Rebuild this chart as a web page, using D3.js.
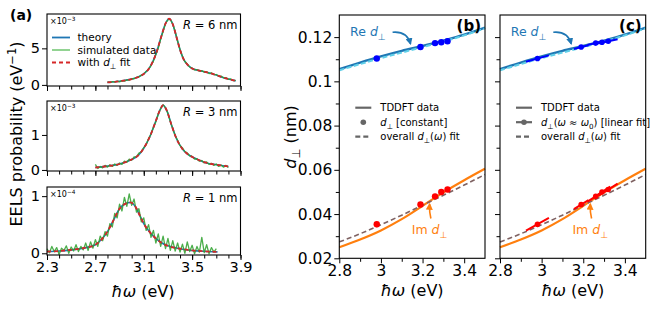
<!DOCTYPE html>
<html>
<head>
<meta charset="utf-8">
<script src="https://cdn.jsdelivr.net/npm/d3@7"></script>
<style>
  body { margin: 0; background: #fff; }
  text { font-family: "DejaVu Sans", sans-serif; }
</style>
</head>
<body>
<svg id="fig" width="664" height="309"></svg>
<script>
// ---------- panel (a): EELS spectra ----------
// theory curves, [energy (eV), probability]
const theoryR6 = [[2.80,0.35],[2.90,0.5],[3.00,0.8],[3.05,1.05],[3.10,1.5],[3.15,2.4],[3.20,4.2],[3.25,6.9],[3.28,8.4],[3.31,9.05],[3.34,8.3],[3.37,6.6],[3.40,4.8],[3.43,3.5],[3.46,2.8],[3.50,2.25],[3.55,2.0],[3.60,1.8],[3.65,1.6],[3.70,1.35],[3.75,1.05],[3.80,0.8],[3.86,0.55]];
const theoryR3 = [[2.70,0.07],[2.80,0.11],[2.90,0.17],[3.00,0.30],[3.05,0.40],[3.10,0.62],[3.15,0.95],[3.20,1.40],[3.235,1.72],[3.26,1.85],[3.29,1.70],[3.33,1.28],[3.37,0.90],[3.42,0.60],[3.46,0.46],[3.52,0.34],[3.57,0.26],[3.62,0.20],[3.70,0.15],[3.80,0.10]];
const theoryR1 = [[2.30,0.03],[2.40,0.04],[2.50,0.06],[2.60,0.09],[2.70,0.15],[2.75,0.24],[2.80,0.38],[2.85,0.58],[2.90,0.78],[2.95,0.87],[2.99,0.89],[3.03,0.82],[3.07,0.65],[3.10,0.52],[3.15,0.37],[3.20,0.26],[3.25,0.18],[3.30,0.13],[3.40,0.08],[3.50,0.05],[3.60,0.035],[3.71,0.025]];

// energy grid of the simulated (noisy) data
const simEnergy = [2.30,2.32,2.34,2.36,2.38,2.40,2.42,2.44,2.46,2.48,2.50,2.52,2.54,2.56,2.58,2.60,2.62,2.64,2.66,2.68,
  2.70,2.72,2.74,2.76,2.78,2.80,2.82,2.84,2.86,2.88,2.90,2.92,2.94,2.96,2.98,3.00,3.02,3.04,3.06,3.08,
  3.10,3.12,3.14,3.16,3.18,3.20,3.22,3.24,3.26,3.28,3.30,3.32,3.34,3.36,3.38,3.40,3.42,3.44,3.46,3.48,
  3.50,3.52,3.54,3.56,3.58,3.60,3.62,3.64,3.66,3.68,3.70,3.72,3.74,3.76,3.78,3.80,3.82,3.84,3.86];

const simR6 = [0.40,0.30,0.45,0.38,0.52,0.42,0.58,0.52,0.68,0.66,0.85,0.84,1.05,1.08,1.35,1.48,1.85,2.15,2.65,3.25,
  4.15,5.0,6.3,7.3,8.4,8.9,8.95,8.3,7.3,6.0,4.85,3.9,3.2,2.85,2.45,2.3,2.05,2.1,1.88,1.95,
  1.75,1.8,1.55,1.65,1.4,1.42,1.18,1.2,0.95,1.0,0.75,0.82,0.58,0.62];
const simR3 = [0.16,0.04,0.10,0.06,0.13,0.08,0.15,0.10,0.17,0.13,0.20,0.16,0.25,0.22,0.31,0.28,0.37,0.38,0.48,0.52,
  0.64,0.72,0.90,1.02,1.22,1.38,1.60,1.75,1.86,1.78,1.62,1.38,1.18,0.98,0.85,0.70,0.63,0.52,0.49,0.40,
  0.39,0.31,0.32,0.25,0.27,0.20,0.23,0.16,0.19,0.13,0.17,0.10,0.14,0.08,0.13,0.07];
const simR1 = [0.08,0.01,0.12,0.03,0.10,-0.02,0.09,0.05,0.13,0.00,0.11,0.04,0.15,0.03,0.12,0.06,0.18,0.05,0.20,0.09,
  0.24,0.12,0.30,0.22,0.38,0.30,0.52,0.46,0.70,0.62,0.86,0.74,0.98,0.82,1.04,0.84,0.95,0.72,0.78,0.55,
  0.62,0.40,0.50,0.28,0.40,0.18,0.34,0.12,0.30,0.08,0.26,0.05,0.22,0.04,0.18,0.02,0.16,0.00,0.20,0.03,
  0.14,-0.01,0.12,0.02,0.28,0.01,0.15,-0.01,0.10,0.02,0.08];

const radii = ["6", "3", "1"];
const exponents = ["−3", "−3", "−4"];
const eelsTicksX = [2.3, 2.7, 3.1, 3.5, 3.9];

// ---------- panels (b), (c): d_perp ----------
const reTddft = [[2.80,0.1055],[2.90,0.1085],[3.00,0.1113],[3.10,0.1138],[3.20,0.1160],[3.30,0.1184],[3.40,0.1211],[3.50,0.1243]];
const reFit   = [[2.80,0.1050],[2.90,0.1078],[3.00,0.1105],[3.10,0.1130],[3.20,0.1155],[3.30,0.1180],[3.40,0.1208],[3.50,0.1240]];
const imTddft = [[2.80,0.0250],[2.90,0.0285],[3.00,0.0326],[3.10,0.0377],[3.20,0.0437],[3.30,0.0498],[3.40,0.0553],[3.50,0.0605]];
const imFit   = [[2.80,0.0274],[2.90,0.0311],[3.00,0.0352],[3.10,0.0395],[3.20,0.0440],[3.30,0.0485],[3.40,0.0531],[3.50,0.0579]];

const pointE   = [2.98, 3.19, 3.26, 3.29, 3.32];
const reConst  = [0.1103, 0.1155, 0.1173, 0.1177, 0.1181];
const imConst  = [0.0354, 0.0443, 0.0480, 0.0500, 0.0511];
const reSlope  = [0.026, 0.024, 0.022, 0.022, 0.020];
const imSlope  = [0.052, 0.058, 0.060, 0.060, 0.060];
const fitHalf  = [0.055, 0.035, 0.04, 0.04, 0.045];

const svg = d3.select("#fig");
const fmt = d3.format("~g");

const defs = svg.append("defs");
function arrowMarker(id, color) {
    defs.append("marker")
        .attr("id", id)
        .attr("viewBox", "0 0 10 10")
        .attr("refX", 8).attr("refY", 5)
        .attr("markerUnits", "userSpaceOnUse")
        .attr("markerWidth", 7).attr("markerHeight", 7)
        .attr("orient", "auto")
        .append("path")
        .attr("d", "M0,0L10,5L0,10z")
        .attr("fill", color);
}
arrowMarker("ahBlue", "#1f77b4");
arrowMarker("ahOrange", "#ff7f0e");

// append text made of parts: [string, "i" | "sub" | "sup" | ""]
function rich(sel, parts, size) {
    let shift = 0;
    parts.forEach(function(p) {
        let t = sel.append("tspan").text(p[0]);
        let want = 0;
        if (p[1] == "sub") { want = size * 0.28; t.attr("font-size", size * 0.72); }
        if (p[1] == "sup") { want = -size * 0.4; t.attr("font-size", size * 0.72); }
        if (p[1] == "i") t.attr("font-style", "italic");
        if (want != shift) { t.attr("dy", want - shift); shift = want; }
    });
}

function styleAxis(g, size) {
    g.select(".domain").remove();
    g.selectAll("line").attr("stroke", "#000").attr("stroke-width", 1);
    g.selectAll("text").attr("font-size", size).attr("fill", "#000");
}

// ---------- draw panel (a) ----------
const aLeft = 47, aRight = 240.5;
const xA = d3.scaleLinear().domain([2.3, 3.9]).range([aLeft, aRight]);
const rowsA = [
    {theory: theoryR6, sim: simR6, from: 2.80, dom: [-0.15, 9.7], ticks: [0, 5], top: 14, bottom: 86},
    {theory: theoryR3, sim: simR3, from: 2.70, dom: [-0.03, 1.97], ticks: [0, 1], top: 101, bottom: 171},
    {theory: theoryR1, sim: simR1, from: 2.30, dom: [-0.03, 1.16], ticks: [0, 1], top: 187, bottom: 255}
];

rowsA.forEach(function(row, i) {
    let y = d3.scaleLinear().domain(row.dom).range([row.bottom, row.top]);
    let g = svg.append("g");
    let start = simEnergy.indexOf(row.from);

    let smooth = d3.line().x(d => xA(d[0])).y(d => y(d[1])).curve(d3.curveMonotoneX);
    let noisy = d3.line().x((d, k) => xA(simEnergy[start + k])).y(d => y(d));

    g.append("path").attr("d", smooth(row.theory))
        .attr("fill", "none").attr("stroke", "#1f77b4").attr("stroke-width", 1.6);
    g.append("path").attr("d", noisy(row.sim))
        .attr("fill", "none").attr("stroke", "#2ca02c").attr("stroke-width", 1.3)
        .attr("stroke-opacity", 0.85).attr("stroke-linejoin", "round");
    g.append("path").attr("d", smooth(row.theory))
        .attr("fill", "none").attr("stroke", "#d62728").attr("stroke-width", 1.8)
        .attr("stroke-dasharray", "4,3");

    // x ticks
    let minor = g.append("g").attr("transform", "translate(0," + row.bottom + ")")
        .call(d3.axisBottom(xA).tickValues(d3.range(23, 40).map(v => v / 10)).tickSize(3.5).tickFormat(""));
    styleAxis(minor, 14);
    let major = g.append("g").attr("transform", "translate(0," + row.bottom + ")")
        .call(d3.axisBottom(xA).tickValues(eelsTicksX).tickSize(5).tickPadding(2)
            .tickFormat(i == 2 ? fmt : ""));
    styleAxis(major, 14.5);

    let yax = g.append("g").attr("transform", "translate(" + aLeft + ",0)")
        .call(d3.axisLeft(y).tickValues(row.ticks).tickSize(5).tickPadding(2).tickFormat(fmt));
    styleAxis(yax, 14.5);

    g.append("rect").attr("x", aLeft).attr("y", row.top)
        .attr("width", aRight - aLeft).attr("height", row.bottom - row.top)
        .attr("fill", "none").attr("stroke", "#000").attr("stroke-width", 1.1);

    // offset text
    let off = g.append("text").attr("x", aLeft + 3).attr("y", row.top + 10).attr("font-size", 8);
    rich(off, [["×10", ""], [exponents[i], "sup"]], 8);

    // radius label
    let r = g.append("text").attr("x", aRight - 3).attr("y", row.top + 15)
        .attr("text-anchor", "end").attr("font-size", 11.5);
    rich(r, [["R", "i"], [" = " + radii[i] + " nm", ""]], 11.5);
});

// legend of (a)
const legA = [
    {label: [["theory", ""]], color: "#1f77b4", dash: null},
    {label: [["simulated data", ""]], color: "#86cf86", dash: null},
    {label: [["with ", ""], ["d", "i"], ["⊥", "sub"], [" fit", ""]], color: "#d62728", dash: "4,3"}
];
legA.forEach(function(d, i) {
    let yy = 37.5 + i * 12.5;
    svg.append("line").attr("x1", 52).attr("x2", 70).attr("y1", yy).attr("y2", yy)
        .attr("stroke", d.color).attr("stroke-width", 1.8).attr("stroke-dasharray", d.dash);
    let t = svg.append("text").attr("x", 77.5).attr("y", yy + 3.8).attr("font-size", 10.5);
    rich(t, d.label, 10.5);
});

let ylabA = svg.append("text").attr("transform", "translate(22,134) rotate(-90)")
    .attr("text-anchor", "middle").attr("font-size", 16);
rich(ylabA, [["EELS probability (eV", ""], ["−1", "sup"], [")", ""]], 16);

svg.append("text").attr("x", 143).attr("y", 297).attr("text-anchor", "middle")
    .attr("font-size", 16).call(t => rich(t, [["ħω", "i"], [" (eV)", ""]], 16));
svg.append("text").attr("x", 10).attr("y", 19.5).attr("font-size", 14)
    .attr("font-weight", "bold").text("(a)");

// ---------- draw panels (b), (c) ----------
const dTop = 15, dBottom = 258.3;

function drawPerp(left, right, letter, linearFit) {
    let x = d3.scaleLinear().domain([2.8, 3.5]).range([left, right]);
    let y = d3.scaleLinear().domain([0.02, 0.13]).range([dBottom, dTop]);
    let g = svg.append("g");
    let line = d3.line().x(d => x(d[0])).y(d => y(d[1])).curve(d3.curveMonotoneX);

    g.append("path").attr("d", line(reTddft)).attr("fill", "none")
        .attr("stroke", "#1f77b4").attr("stroke-width", 2.4);
    g.append("path").attr("d", line(reFit)).attr("fill", "none")
        .attr("stroke", "#5fcfe8").attr("stroke-width", 2).attr("stroke-dasharray", "5,2.5");
    g.append("path").attr("d", line(imTddft)).attr("fill", "none")
        .attr("stroke", "#ff7f0e").attr("stroke-width", 2.2);
    g.append("path").attr("d", line(imFit)).attr("fill", "none")
        .attr("stroke", "#7f6262").attr("stroke-width", 1.6).attr("stroke-dasharray", "5,3");

    if (linearFit) {
        pointE.forEach(function(e, k) {
            let h = fitHalf[k];
            g.append("line")
                .attr("x1", x(e - h)).attr("x2", x(e + h))
                .attr("y1", y(reConst[k] - reSlope[k] * h)).attr("y2", y(reConst[k] + reSlope[k] * h))
                .attr("stroke", "#0000ff").attr("stroke-width", 2);
            g.append("line")
                .attr("x1", x(e - h)).attr("x2", x(e + h))
                .attr("y1", y(imConst[k] - imSlope[k] * h)).attr("y2", y(imConst[k] + imSlope[k] * h))
                .attr("stroke", "#ff0000").attr("stroke-width", 2);
        });
    }
    g.selectAll("circle.re").data(pointE).enter().append("circle")
        .attr("cx", d => x(d)).attr("cy", (d, k) => y(reConst[k]))
        .attr("r", linearFit ? 2.8 : 3.2).attr("fill", "#0000ff");
    g.selectAll("circle.im").data(pointE).enter().append("circle")
        .attr("cx", d => x(d)).attr("cy", (d, k) => y(imConst[k]))
        .attr("r", linearFit ? 2.8 : 3.2).attr("fill", "#ff0000");

    // axes
    let xMinor = g.append("g").attr("transform", "translate(0," + dBottom + ")")
        .call(d3.axisBottom(x).tickValues([2.9, 3.1, 3.3]).tickSize(3.5).tickFormat(""));
    styleAxis(xMinor, 15);
    let xMajor = g.append("g").attr("transform", "translate(0," + dBottom + ")")
        .call(d3.axisBottom(x).tickValues([2.8, 3.0, 3.2, 3.4]).tickSize(5).tickPadding(2).tickFormat(fmt));
    styleAxis(xMajor, 15.5);
    let yMinor = g.append("g").attr("transform", "translate(" + left + ",0)")
        .call(d3.axisLeft(y).tickValues([0.03, 0.05, 0.07, 0.09, 0.11]).tickSize(3.5).tickFormat(""));
    styleAxis(yMinor, 15);
    let yMajor = g.append("g").attr("transform", "translate(" + left + ",0)")
        .call(d3.axisLeft(y).tickValues([0.02, 0.04, 0.06, 0.08, 0.1, 0.12]).tickSize(5).tickPadding(2)
            .tickFormat(linearFit ? "" : fmt));
    styleAxis(yMajor, 15.5);

    g.append("rect").attr("x", left).attr("y", dTop)
        .attr("width", right - left).attr("height", dBottom - dTop)
        .attr("fill", "none").attr("stroke", "#000").attr("stroke-width", 1.1);

    // annotations
    let reT = g.append("text").attr("x", x(2.852)).attr("y", y(0.1203))
        .attr("font-size", 12.5).attr("fill", "#1f77b4");
    rich(reT, [["Re ", ""], ["d", "i"], ["⊥", "sub"]], 12.5);
    g.append("path")
        .attr("d", "M" + x(3.056) + "," + y(0.1222) + " Q" + x(3.125) + "," + y(0.1228) + " " + x(3.142) + "," + y(0.1170))
        .attr("fill", "none").attr("stroke", "#1f77b4").attr("stroke-width", 1.6)
        .attr("marker-end", "url(#ahBlue)");

    let imT = g.append("text").attr("x", x(3.148)).attr("y", y(0.0309))
        .attr("font-size", 12.5).attr("fill", "#ff7f0e");
    rich(imT, [["Im ", ""], ["d", "i"], ["⊥", "sub"]], 12.5);
    g.append("path")
        .attr("d", "M" + x(3.240) + "," + y(0.0380) + " Q" + x(3.232) + "," + y(0.0410) + " " + x(3.234) + "," + y(0.0445))
        .attr("fill", "none").attr("stroke", "#ff7f0e").attr("stroke-width", 1.6)
        .attr("marker-end", "url(#ahOrange)");

    g.append("text").attr("x", right - 4).attr("y", 31).attr("text-anchor", "end")
        .attr("font-size", 15).attr("font-weight", "bold").text(letter);

    // legend
    let lx = left + 16;
    let items = [
        {label: [["TDDFT data", ""]], dash: null, dot: false, line: true},
        {label: linearFit
            ? [["d", "i"], ["⊥", "sub"], ["(", ""], ["ω", "i"], [" ≈ ", ""], ["ω", "i"], ["0", "sub"], [") [linear fit]", ""]]
            : [["d", "i"], ["⊥", "sub"], [" [constant]", ""]],
         dash: null, dot: true, line: linearFit},
        {label: [["overall ", ""], ["d", "i"], ["⊥", "sub"], ["(", ""], ["ω", "i"], [") fit", ""]], dash: "5,3", dot: false, line: true}
    ];
    items.forEach(function(d, k) {
        let yy = 107.7 + k * 14.5;
        if (d.line) {
            g.append("line").attr("x1", lx).attr("x2", lx + 16).attr("y1", yy).attr("y2", yy)
                .attr("stroke", "#666").attr("stroke-width", 2.2).attr("stroke-dasharray", d.dash);
        }
        if (d.dot) {
            g.append("circle").attr("cx", lx + 8).attr("cy", yy).attr("r", 2.8).attr("fill", "#666");
        }
        let t = g.append("text").attr("x", lx + 25).attr("y", yy + 3.6).attr("font-size", 10);
        rich(t, d.label, 10);
    });

    g.append("text").attr("x", (left + right) / 2).attr("y", 296).attr("text-anchor", "middle")
        .attr("font-size", 16).call(t => rich(t, [["ħω", "i"], [" (eV)", ""]], 16));
}

drawPerp(339.3, 485, "(b)", false);
drawPerp(500, 645.7, "(c)", true);

let ylabD = svg.append("text").attr("transform", "translate(296,137) rotate(-90)")
    .attr("text-anchor", "middle").attr("font-size", 16);
rich(ylabD, [["d", "i"], ["⊥", "sub"], [" (nm)", ""]], 16);
</script>
</body>
</html>
